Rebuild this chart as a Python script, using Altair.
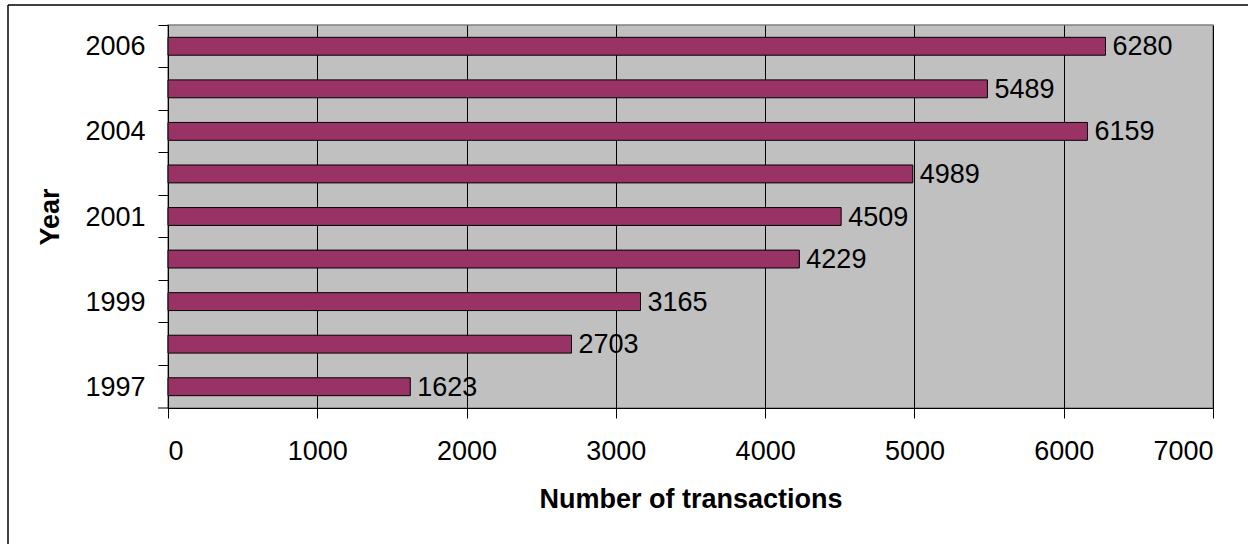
import altair as alt
import pandas as pd

# Categories top-to-bottom (every other label hidden as in the reference)
years = ["2006", "2005", "2004", "2002", "2001", "2000", "1999", "1998", "1997"]
transactions = [6280, 5489, 6159, 4989, 4509, 4229, 3165, 2703, 1623]
shown_labels = ["2006", "2004", "2001", "1999", "1997"]
x_ticks = [0, 1000, 2000, 3000, 4000, 5000, 6000, 7000]

df = pd.DataFrame({"year": years, "n": transactions})

W, H = 1045, 383
FONT = "Liberation Sans"
FS = 27

label_expr = "indexof([" + ",".join("'%s'" % s for s in shown_labels) + "], datum.value) >= 0 ? datum.label : ''"

y_enc = alt.Y(
    "year:N",
    sort=years,
    scale=alt.Scale(paddingInner=0, paddingOuter=0),
    axis=alt.Axis(
        title="Year",
        bandPosition=0,
        labelExpr=label_expr,
        labelFont=FONT,
        labelFontSize=FS,
        labelColor="black",
        labelPadding=13,
        labelOffset=1,
        tickSize=10,
        tickColor="black",
        domainColor="black",
        titleFont=FONT,
        titleFontSize=FS,
        titleFontWeight="bold",
        titleColor="black",
        titlePadding=20,
        grid=False,
    ),
)

x_enc = alt.X(
    "n:Q",
    scale=alt.Scale(domain=[0, 7000], nice=False),
    axis=alt.Axis(
        title="Number of transactions",
        values=x_ticks,
        format="d",
        labelFont=FONT,
        labelFontSize=FS,
        labelColor="black",
        labelPadding=20,
        tickSize=10,
        tickColor="black",
        domainColor="black",
        grid=True,
        gridColor="black",
        gridOpacity=1,
        gridWidth=1,
        titleFont=FONT,
        titleFontSize=FS,
        titleFontWeight="bold",
        titleColor="black",
        titlePadding=22,
    ),
)

base = alt.Chart(df)

bars = base.mark_bar(
    color="#993366", stroke="black", strokeWidth=1, height={"band": 0.42}
).encode(x=x_enc, y=y_enc)

labels = base.mark_text(
    align="left", baseline="middle", dx=7, dy=1, font=FONT, fontSize=FS, color="black"
).encode(
    x=alt.X("n:Q"),
    y=alt.Y("year:N", sort=years),
    text=alt.Text("n:Q", format="d"),
)

# decorations: bottom category tick and outer chart border
deco_df = pd.DataFrame({"k": [0]})
bottom_tick = alt.Chart(deco_df).mark_rule(color="black", strokeWidth=1).encode(
    x=alt.value(-10), x2=alt.value(0), y=alt.value(H)
)
border_top = alt.Chart(deco_df).mark_rule(color="black", strokeWidth=1.5).encode(
    x=alt.value(-160), x2=alt.value(1200), y=alt.value(-20)
)
border_left = alt.Chart(deco_df).mark_rule(color="black", strokeWidth=1.5).encode(
    x=alt.value(-160), y=alt.value(-20), y2=alt.value(700)
)

chart = alt.layer(bars, labels, bottom_tick, border_top, border_left).properties(
    width=W,
    height=H,
    autosize=alt.AutoSizeParams(type="none"),
    padding={"left": 168, "top": 25, "right": 35, "bottom": 136},
    background="white",
).configure_view(
    fill="#C0C0C0", stroke="#808080", strokeWidth=1.5
)

chart.save("out.html", embed_options={"renderer": "svg", "actions": False})
